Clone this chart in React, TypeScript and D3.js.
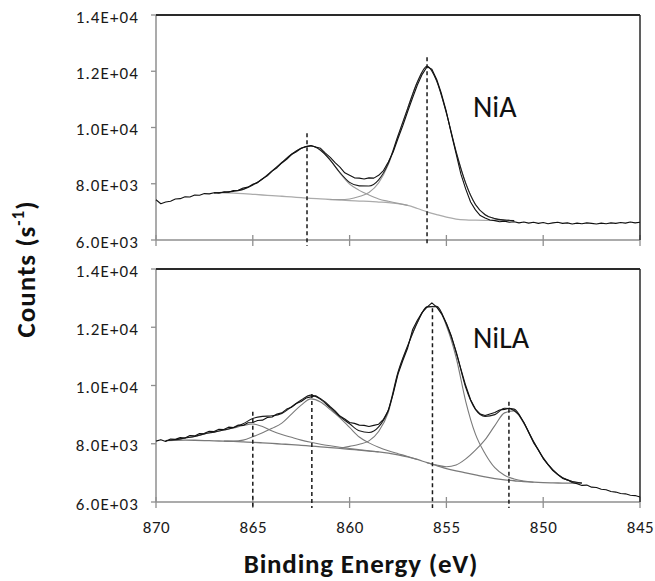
import React from 'react';
import * as d3 from 'd3';

// ---------- data ----------
const X_TICKS = [870, 865, 860, 855, 850, 845];
const Y_TICKS = [6000, 8000, 10000, 12000, 14000];
const Y_TICK_LABELS = ['6.0E+03', '8.0E+03', '1.0E+04', '1.2E+04', '1.4E+04'];

// measured spectra, 870 -> 845 eV, 0.25 eV step
const RAW_E = d3.range(0, 101).map((i) => 870 - i * 0.25);
const TOP_RAW = [
  7430, 7290, 7350, 7380, 7460, 7470, 7540, 7530, 7600, 7590,
  7650, 7640, 7680, 7660, 7710, 7700, 7760, 7770, 7850, 7880,
  7980, 8040, 8180, 8280, 8450, 8570, 8740, 8870, 9040, 9140,
  9260, 9320, 9360, 9310, 9260, 9090, 8940, 8750, 8590, 8390,
  8300, 8210, 8200, 8170, 8210, 8200, 8300, 8470, 8770, 9130,
  9610, 10070, 10570, 11050, 11510, 11890, 12160, 12070, 11710, 11190,
  10560, 9790, 9070, 8340, 7810, 7350, 7070, 6870, 6780, 6710,
  6690, 6650, 6670, 6630, 6650, 6610, 6640, 6600, 6630, 6590,
  6620, 6580, 6610, 6630, 6590, 6610, 6570, 6600, 6580, 6610,
  6590, 6570, 6600, 6580, 6610, 6590, 6620, 6600, 6640, 6610,
  6630,
];
const BOT_RAW = [
  8090, 8140, 8080, 8160, 8150, 8210, 8200, 8280, 8270, 8350,
  8360, 8430, 8420, 8500, 8490, 8570, 8560, 8640, 8630, 8720,
  8730, 8800, 8810, 8900, 8920, 9020, 9060, 9190, 9250, 9380,
  9450, 9570, 9610, 9650, 9550, 9430, 9270, 9130, 8950, 8850,
  8730, 8700, 8640, 8630, 8590, 8630, 8670, 8840, 9140, 9710,
  10390, 10860, 11290, 11910, 12240, 12510, 12690, 12840, 12690, 12460,
  12140, 11710, 11140, 10560, 9990, 9510, 9190, 9020, 8970, 9020,
  9070, 9160, 9180, 9220, 9140, 8990, 8740, 8390, 8040, 7790,
  7490, 7280, 7080, 6940, 6810, 6760, 6670, 6630, 6570, 6580,
  6510, 6500, 6440, 6420, 6360, 6340, 6290, 6280, 6230, 6220,
  6170,
];

// fitted background and components (heights above background), 0.5 eV step
const TOP_FIT_E = d3.range(0, 32).map((i) => 867 - i * 0.5);
const TOP_BG = [
  7680, 7680, 7670, 7650, 7625, 7600, 7580, 7555, 7530, 7505,
  7480, 7460, 7440, 7420, 7400, 7385, 7370, 7350, 7330, 7290,
  7230, 7120, 7000, 6900, 6810, 6745, 6715, 6705, 6700, 6700,
  6695, 6690,
];
const TOP_C1 = [
  0, 20, 60, 150, 330, 570, 880, 1200, 1520, 1760,
  1860, 1730, 1400, 960, 590, 380, 230, 110, 45, 15,
  0, 0, 0, 0, 0, 0, 0, 0, 0, 0,
  0, 0,
];
const TOP_C2 = [
  0, 0, 0, 0, 0, 0, 0, 0, 0, 0,
  0, 0, 0, 20, 60, 160, 320, 680, 1350, 2400,
  3450, 4500, 5180, 4750, 3700, 2400, 1300, 560, 200, 60,
  15, 0,
];

const BOT_FIT_E = d3.range(0, 44).map((i) => 869.5 - i * 0.5);
const BOT_BG = [
  8110, 8120, 8125, 8120, 8110, 8100, 8090, 8080, 8065, 8050,
  8030, 8010, 7990, 7970, 7945, 7920, 7895, 7870, 7840, 7810,
  7780, 7750, 7720, 7680, 7620, 7550, 7460, 7350, 7250, 7150,
  7070, 7000, 6930, 6860, 6800, 6760, 6730, 6700, 6680, 6665,
  6655, 6650, 6645, 6640,
];
const BOT_A = [
  0, 20, 70, 130, 230, 300, 380, 460, 560, 630,
  560, 430, 330, 250, 180, 130, 90, 60, 40, 25,
  15, 8, 0, 0, 0, 0, 0, 0, 0, 0,
  0, 0, 0, 0, 0, 0, 0, 0, 0, 0,
  0, 0, 0, 0,
];
const BOT_B = [
  0, 0, 0, 0, 0, 0, 0, 10, 60, 190,
  350, 520, 720, 1050, 1380, 1620, 1540, 1300, 1050, 750,
  450, 280, 160, 80, 40, 15, 0, 0, 0, 0,
  0, 0, 0, 0, 0, 0, 0, 0, 0, 0,
  0, 0, 0, 0,
];
const BOT_C = [
  0, 0, 0, 0, 0, 0, 0, 0, 0, 0,
  0, 0, 0, 0, 0, 0, 0, 0, 0, 100,
  200, 350, 700, 1400, 2800, 3800, 4700, 5350, 5450, 4900,
  3900, 2450, 1400, 800, 380, 160, 60, 20, 0, 0,
  0, 0, 0, 0,
];
const BOT_D = [
  0, 0, 0, 0, 0, 0, 0, 0, 0, 0,
  0, 0, 0, 0, 0, 0, 0, 0, 0, 0,
  0, 0, 0, 0, 0, 0, 0, 0, 20, 60,
  200, 480, 850, 1280, 1820, 2300, 2400, 2000, 1400, 850,
  445, 180, 60, 15,
];

// peak positions (dashed markers) and their top values
const TOP_PEAKS = [862.2, 856.0];
const TOP_PEAK_TOPS = [9800, 12500];
const BOT_PEAKS = [865.0, 861.95, 855.72, 851.77];
const BOT_PEAK_TOPS = [9100, 9710, 12650, 9440];

// ---------- drawing ----------
const FONT = 'Carlito, Calibri, Lato, sans-serif';
const X0 = 156;
const X1 = 640;

type PanelProps = {
  top: number;
  bottom: number;
  raw: number[];
  fitE: number[];
  bg: number[];
  comps: number[][];
  compColor: string;
  bgColor: string;
  peaks: number[];
  peakTops: number[];
  label: string;
  labelY: number;
  showXLabels: boolean;
};

function Panel(p: PanelProps) {
  const x = d3.scaleLinear().domain([870, 845]).range([X0, X1]);
  const y = d3.scaleLinear().domain([6000, 14000]).range([p.bottom, p.top]);
  const smooth = d3
    .line<[number, number]>()
    .x((d) => x(d[0]))
    .y((d) => y(d[1]))
    .curve(d3.curveMonotoneX);
  const linear = d3
    .line<[number, number]>()
    .x((d) => x(d[0]))
    .y((d) => y(d[1]));

  const bgPts: [number, number][] = p.fitE.map((e, i) => [e, p.bg[i]]);
  const compPaths = p.comps.map((c) => {
    const idx = c.map((v, i) => (v > 0 ? i : -1)).filter((i) => i >= 0);
    const i0 = Math.max(0, idx[0] - 1);
    const i1 = Math.min(c.length - 1, idx[idx.length - 1] + 1);
    const pts: [number, number][] = [];
    for (let i = i0; i <= i1; i++) pts.push([p.fitE[i], p.bg[i] + c[i]]);
    return smooth(pts) || '';
  });
  const envPts: [number, number][] = p.fitE.map((e, i) => [
    e,
    p.bg[i] + d3.sum(p.comps, (c) => c[i]),
  ]);
  const rawPts: [number, number][] = RAW_E.map((e, i) => [e, p.raw[i]]);

  const axisColor = '#8f8f8f';
  const frameColor = '#2a2a2a';

  return (
    <g>
      {Y_TICKS.map((t, i) => (
        <g key={'y' + t}>
          <line x1={X0 - 5} x2={X0} y1={y(t)} y2={y(t)} stroke={axisColor} strokeWidth={1.3} />
          <text
            x={139}
            y={y(t) + 7.5}
            textAnchor="end"
            fontFamily={FONT}
            fontSize={17}
            letterSpacing={1.1}
            fill="#1a1a1a"
          >
            {Y_TICK_LABELS[i]}
          </text>
        </g>
      ))}
      {X_TICKS.map((t) => (
        <g key={'x' + t}>
          <line x1={x(t)} x2={x(t)} y1={p.bottom - 5} y2={p.bottom + 6} stroke={axisColor} strokeWidth={1.3} />
          {p.showXLabels && (
            <text
              x={x(t) + 0.5}
              y={p.bottom + 31}
              textAnchor="middle"
              fontFamily={FONT}
              fontSize={17}
              letterSpacing={0.6}
              fill="#1a1a1a"
            >
              {t}
            </text>
          )}
        </g>
      ))}
      <line x1={X0} x2={X0} y1={p.top} y2={p.bottom} stroke={axisColor} strokeWidth={1.5} />
      <line x1={X0} x2={X1} y1={p.bottom} y2={p.bottom} stroke={axisColor} strokeWidth={1.5} />
      <line x1={X0} x2={X1} y1={p.top} y2={p.top} stroke={frameColor} strokeWidth={1.8} />
      <line x1={X1} x2={X1} y1={p.top} y2={p.bottom} stroke={frameColor} strokeWidth={1.5} />

      <path d={smooth(bgPts) || ''} fill="none" stroke={p.bgColor} strokeWidth={1.3} />
      {compPaths.map((d, i) => (
        <path key={'c' + i} d={d} fill="none" stroke={p.compColor} strokeWidth={1.1} />
      ))}
      <path d={smooth(envPts) || ''} fill="none" stroke="#1c1c1c" strokeWidth={1.1} />
      <path d={linear(rawPts) || ''} fill="none" stroke="#111" strokeWidth={1.1} strokeLinejoin="round" />

      {p.peaks.map((e, i) => (
        <line
          key={'d' + i}
          x1={x(e)}
          x2={x(e)}
          y1={y(p.peakTops[i])}
          y2={p.bottom + 6}
          stroke="#1a1a1a"
          strokeWidth={1.5}
          strokeDasharray="4,3"
        />
      ))}

      <text x={473} y={p.labelY} fontFamily={FONT} fontSize={30} fill="#111">
        {p.label}
      </text>
    </g>
  );
}

export default function App() {
  return (
    <svg
      width={655}
      height={581}
      style={{ position: 'absolute', left: 0, top: 0, background: '#fff' }}
    >
      <rect x={0} y={0} width={655} height={581} fill="#fff" />
      <Panel
        top={15}
        bottom={240}
        raw={TOP_RAW}
        fitE={TOP_FIT_E}
        bg={TOP_BG}
        comps={[TOP_C1, TOP_C2]}
        compColor="#9c9c9c"
        bgColor="#ababab"
        peaks={TOP_PEAKS}
        peakTops={TOP_PEAK_TOPS}
        label="NiA"
        labelY={117}
        showXLabels={false}
      />
      <Panel
        top={269}
        bottom={502}
        raw={BOT_RAW}
        fitE={BOT_FIT_E}
        bg={BOT_BG}
        comps={[BOT_A, BOT_B, BOT_C, BOT_D]}
        compColor="#7a7a7a"
        bgColor="#7a7a7a"
        peaks={BOT_PEAKS}
        peakTops={BOT_PEAK_TOPS}
        label="NiLA"
        labelY={348}
        showXLabels={true}
      />
      <text
        x={361}
        y={573}
        textAnchor="middle"
        fontFamily={FONT}
        fontSize={27}
        letterSpacing={0.8}
        fontWeight="bold"
        fill="#111"
      >
        Binding Energy (eV)
      </text>
      <text
        transform="translate(35,269) rotate(-90)"
        textAnchor="middle"
        fontFamily={FONT}
        fontSize={27}
        letterSpacing={1}
        fontWeight="bold"
        fill="#111"
      >
        Counts (s
        <tspan fontSize={17} dy={-11}>
          -1
        </tspan>
        <tspan dy={11}>)</tspan>
      </text>
    </svg>
  );
}
